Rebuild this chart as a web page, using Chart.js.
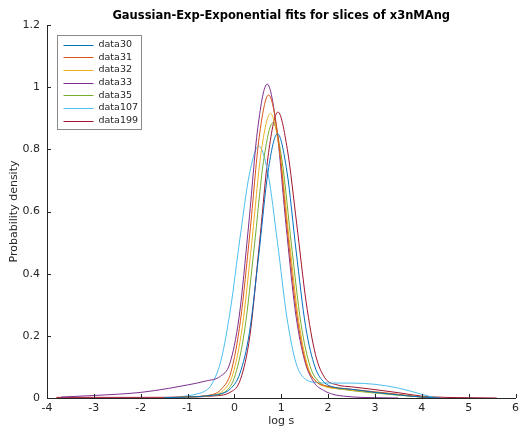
<!DOCTYPE html>
<html>
<head>
<meta charset="utf-8">
<script src="https://cdn.jsdelivr.net/npm/chart.js@4/dist/chart.umd.min.js"></script>
<style>
  html, body { margin: 0; padding: 0; background: #fff; }
  #wrap { width: 523px; height: 432px; }
</style>
</head>
<body>
<div id="wrap"><canvas id="fits" width="523" height="432"></canvas></div>
<script>
// series names and colours (MATLAB default order)
const seriesNames = ["data30", "data31", "data32", "data33", "data35", "data107", "data199"];
const seriesColors = ["#0072BD", "#D95319", "#EDB120", "#7E2F8E", "#77AC30", "#4DBEEE", "#A2142F"];

// x = log s, y = probability density
const xs30 = [-1.5, -1, -0.5, -0.28, -0.08, 0.12, 0.32, 0.52, 0.72, 0.92, 1.12, 1.32, 1.52, 1.72, 1.92, 2.12, 2.5, 3, 3.5, 4, 4.4];
const ys30 = [0.001, 0.003, 0.008, 0.014, 0.03, 0.08, 0.21, 0.46, 0.73, 0.85, 0.73, 0.47, 0.23, 0.1, 0.05, 0.035, 0.028, 0.018, 0.01, 0.003, 0];

const xs31 = [-1.5, -1, -0.5, -0.27, -0.07, 0.13, 0.33, 0.53, 0.73, 0.93, 1.13, 1.33, 1.53, 1.73, 1.93, 2.2, 2.5, 3, 3.5, 4, 4.2];
const ys31 = [0.001, 0.004, 0.01, 0.03, 0.085, 0.25, 0.53, 0.84, 0.975, 0.84, 0.54, 0.27, 0.11, 0.055, 0.04, 0.033, 0.028, 0.02, 0.012, 0.003, 0];

const xs32 = [-1.3, -1, -0.5, -0.23, -0.03, 0.17, 0.37, 0.57, 0.77, 0.97, 1.17, 1.37, 1.57, 1.77, 1.97, 2.2, 2.5, 3, 3.5, 4, 4.3];
const ys32 = [0.001, 0.003, 0.009, 0.025, 0.078, 0.23, 0.5, 0.79, 0.915, 0.79, 0.51, 0.25, 0.1, 0.05, 0.035, 0.03, 0.025, 0.018, 0.01, 0.003, 0];

const xs33 = [-3.7, -3, -2, -1.4, -1, -0.6, -0.3, -0.1, 0.1, 0.3, 0.5, 0.7, 0.9, 1.1, 1.3, 1.5, 1.7, 1.9, 2.1, 2.4, 2.7, 3, 3.5];
const ys33 = [0.003, 0.008, 0.018, 0.031, 0.042, 0.055, 0.07, 0.11, 0.26, 0.55, 0.87, 1.01, 0.87, 0.56, 0.28, 0.12, 0.05, 0.025, 0.012, 0.005, 0.002, 0.001, 0];

const xs35 = [-1.5, -1, -0.5, -0.18, 0.02, 0.22, 0.42, 0.62, 0.82, 1.02, 1.22, 1.42, 1.62, 1.82, 2.02, 2.3, 2.6, 3, 3.5, 4, 4.3];
const ys35 = [0.001, 0.003, 0.008, 0.022, 0.075, 0.22, 0.48, 0.76, 0.885, 0.76, 0.49, 0.24, 0.1, 0.05, 0.035, 0.028, 0.022, 0.016, 0.009, 0.003, 0];

const xs107 = [-1.2, -1, -0.8, -0.6, -0.48, -0.28, -0.08, 0.12, 0.32, 0.52, 0.72, 0.92, 1.12, 1.32, 1.52, 1.75, 2, 2.5, 3, 3.5, 4, 4.3];
const ys107 = [0.003, 0.007, 0.013, 0.025, 0.045, 0.125, 0.29, 0.515, 0.72, 0.81, 0.72, 0.5, 0.26, 0.11, 0.06, 0.05, 0.048, 0.048, 0.044, 0.032, 0.012, 0];

const xs199 = [-3.8, -3, -2, -1, -0.5, -0.07, 0.13, 0.33, 0.53, 0.73, 0.93, 1.13, 1.33, 1.53, 1.73, 1.93, 2.2, 2.5, 3, 3.5, 4, 4.5, 5, 5.6];
const ys199 = [0.002, 0.002, 0.002, 0.003, 0.006, 0.02, 0.06, 0.2, 0.49, 0.79, 0.92, 0.8, 0.56, 0.31, 0.14, 0.065, 0.042, 0.036, 0.027, 0.017, 0.006, 0.002, 0.001, 0];

const xTickLabels = ["-4", "-3", "-2", "-1", "0", "1", "2", "3", "4", "5", "6"];
const yTickLabels = ["0", "0.2", "0.4", "0.6", "0.8", "1", "1.2"];

const allX = [xs30, xs31, xs32, xs33, xs35, xs107, xs199];
const allY = [ys30, ys31, ys32, ys33, ys35, ys107, ys199];

const FONT = "'DejaVu Sans', sans-serif";
const AXIS = "#262626";

function toPoints(xs, ys) {
    return xs.map((x, i) => ({x: x, y: ys[i]}));
}

// inward tick marks like the original axes
const inwardTicks = {
    id: "inwardTicks",
    afterDraw(chart) {
        const ctx = chart.ctx;
        const xs = chart.scales.x, ys = chart.scales.y;
        const a = chart.chartArea;
        ctx.save();
        ctx.strokeStyle = AXIS;
        ctx.lineWidth = 1;
        ctx.beginPath();
        xs.ticks.forEach(t => {
            const px = Math.round(xs.getPixelForValue(t.value)) + 0.5;
            ctx.moveTo(px, a.bottom);
            ctx.lineTo(px, a.bottom - 4);
        });
        ys.ticks.forEach(t => {
            const py = Math.round(ys.getPixelForValue(t.value)) + 0.5;
            ctx.moveTo(a.left, py);
            ctx.lineTo(a.left + 4, py);
        });
        ctx.stroke();
        ctx.restore();
    }
};

// boxed legend in the top-left corner of the axes
const boxLegend = {
    id: "boxLegend",
    afterDraw(chart) {
        const ctx = chart.ctx;
        const a = chart.chartArea;
        const left = a.left + 10.5, top = a.top + 10.5;
        const w = 84, h = 94, step = 12.7;
        ctx.save();
        ctx.fillStyle = "#fff";
        ctx.fillRect(left, top, w, h);
        ctx.strokeStyle = "#8a8a8a";
        ctx.lineWidth = 1;
        ctx.strokeRect(left, top, w, h);
        ctx.font = "9.5px " + FONT;
        ctx.textBaseline = "middle";
        chart.data.datasets.forEach((ds, i) => {
            const y = top + 9 + i * step;
            ctx.strokeStyle = ds.borderColor;
            ctx.beginPath();
            ctx.moveTo(left + 6, Math.round(y) + 0.5);
            ctx.lineTo(left + 36, Math.round(y) + 0.5);
            ctx.stroke();
            ctx.fillStyle = AXIS;
            ctx.fillText(ds.label, left + 41, y);
        });
        ctx.restore();
    }
};

const ctx = document.getElementById("fits");
new Chart(ctx, {
    type: "line",
    data: {
        datasets: seriesNames.map((name, i) => ({
            label: name,
            data: toPoints(allX[i], allY[i]),
            borderColor: seriesColors[i],
            borderWidth: 1,
            pointRadius: 0,
            fill: false,
            cubicInterpolationMode: "monotone"
        }))
    },
    options: {
        responsive: false,
        animation: false,
        layout: {padding: {left: 0, right: 5, top: 0, bottom: 0}},
        plugins: {
            legend: {display: false},
            tooltip: {enabled: false},
            title: {
                display: true,
                text: "Gaussian-Exp-Exponential fits for slices of x3nMAng",
                fullSize: false,
                color: "#000",
                font: {family: FONT, size: 11.5, weight: "bold"},
                padding: {top: 9.5, bottom: 1.7}
            }
        },
        scales: {
            x: {
                type: "linear",
                min: -4,
                max: 6,
                afterFit: s => { s.height = 34; },
                afterBuildTicks: s => { s.ticks = xTickLabels.map(v => ({value: Number(v)})); },
                grid: {display: false, drawTicks: false},
                border: {display: true, color: AXIS, width: 1},
                ticks: {
                    color: AXIS,
                    font: {family: FONT, size: 11},
                    padding: 4,
                    maxRotation: 0,
                    callback: (v, i) => xTickLabels[i]
                },
                title: {
                    display: true,
                    text: "log s",
                    color: AXIS,
                    font: {family: FONT, size: 11},
                    padding: {top: 0, bottom: 4}
                }
            },
            y: {
                type: "linear",
                min: 0,
                max: 1.2,
                afterFit: s => { s.width = 47; },
                afterBuildTicks: s => { s.ticks = yTickLabels.map(v => ({value: Number(v)})); },
                grid: {display: false, drawTicks: false},
                border: {display: true, color: AXIS, width: 1},
                ticks: {
                    color: AXIS,
                    font: {family: FONT, size: 11},
                    padding: 7,
                    callback: (v, i) => yTickLabels[i]
                },
                title: {
                    display: true,
                    text: "Probability density",
                    color: AXIS,
                    font: {family: FONT, size: 11},
                    padding: {top: 8, bottom: 0}
                }
            }
        }
    },
    plugins: [inwardTicks, boxLegend]
});
</script>
</body>
</html>
